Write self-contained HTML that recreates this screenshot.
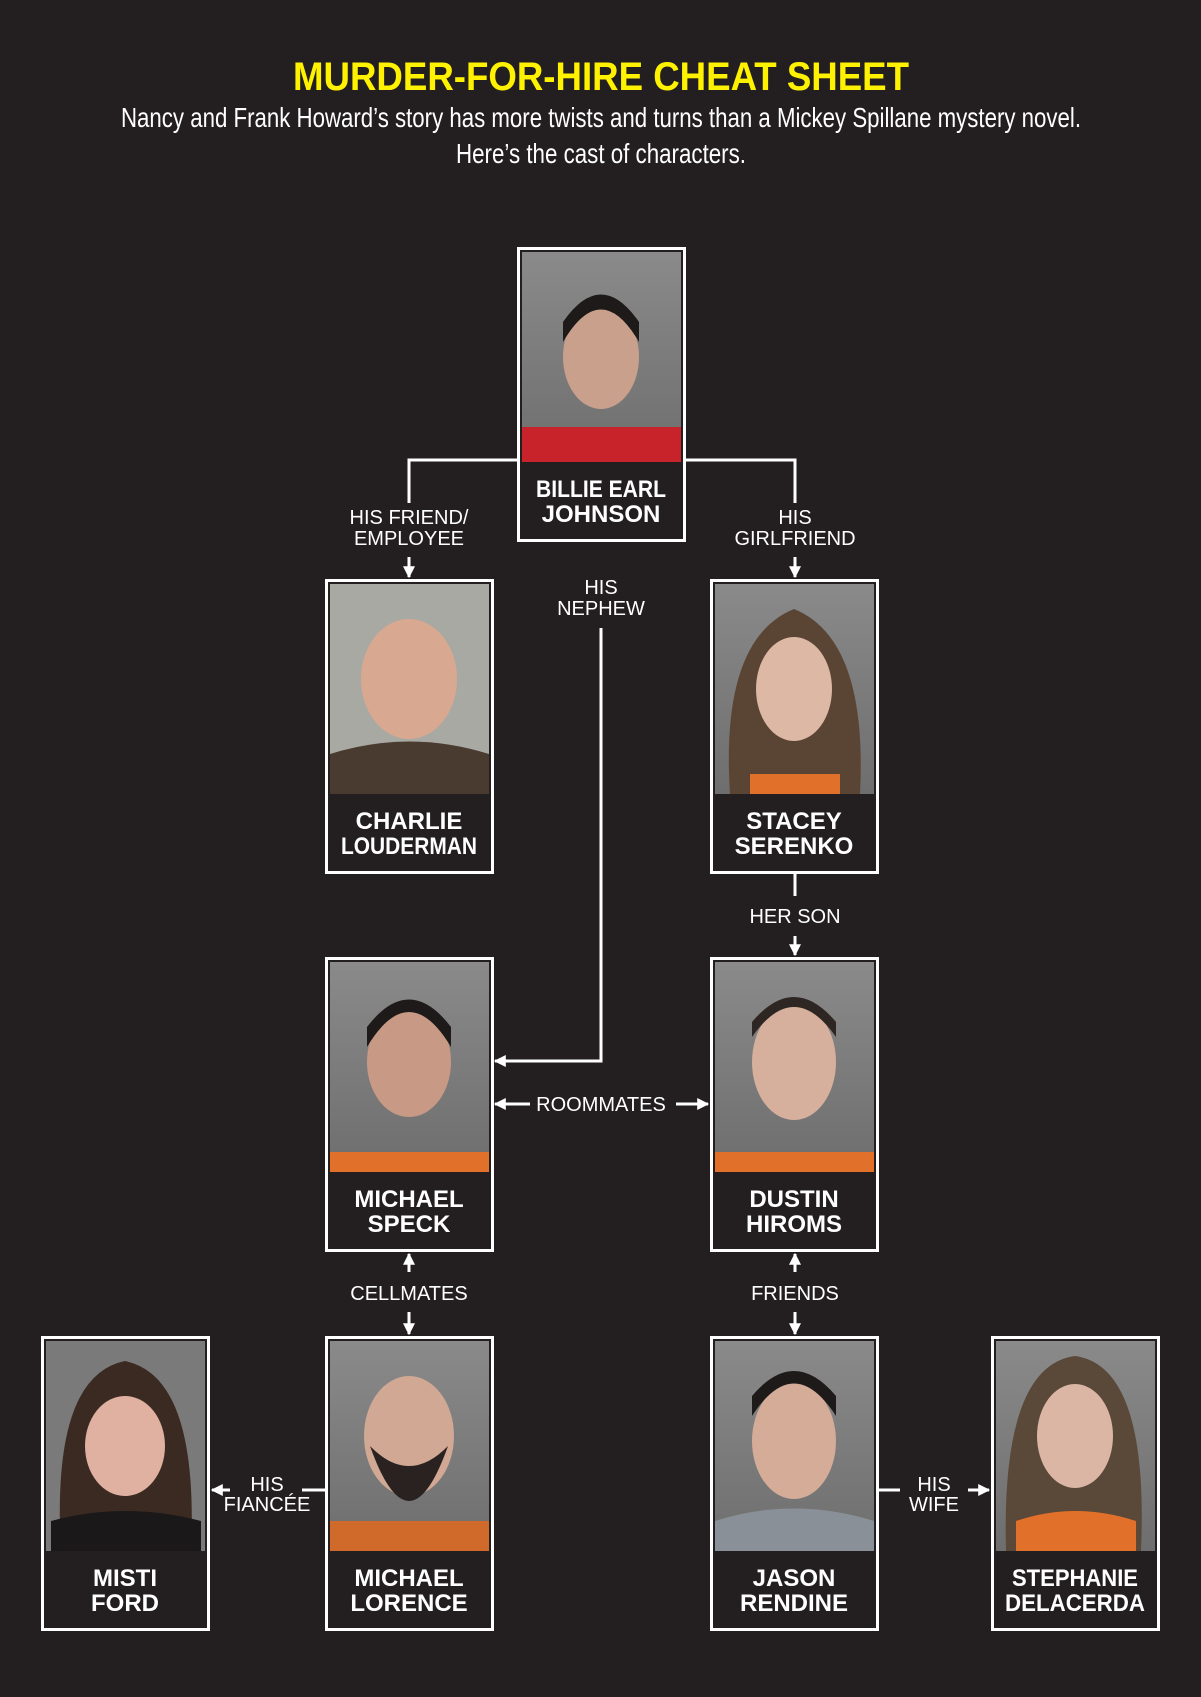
<!DOCTYPE html>
<html><head><meta charset="utf-8"><style>html,body{margin:0;padding:0;background:#231f20}svg{display:block}</style></head>
<body>
<svg width="1201" height="1697" viewBox="0 0 1201 1697" xmlns="http://www.w3.org/2000/svg" font-family="Liberation Sans, sans-serif">
<defs>
<linearGradient id="g" x1="0" y1="0" x2="0" y2="1"><stop offset="0" stop-color="#8a8a8a"/><stop offset="1" stop-color="#6e6e6e"/></linearGradient>
<marker id="a" viewBox="0 0 10 10" refX="9" refY="5" markerWidth="4" markerHeight="4" orient="auto"><path d="M0,0 L10,5 L0,10 z" fill="#fff"/></marker>
</defs>
<rect width="1201" height="1697" fill="#231f20"/>
<text x="601" y="90" text-anchor="middle" fill="#fff200" font-size="40" font-weight="bold" textLength="616" lengthAdjust="spacingAndGlyphs">MURDER-FOR-HIRE CHEAT SHEET</text>
<text x="601" y="127" text-anchor="middle" fill="#fff" font-size="28" textLength="960" lengthAdjust="spacingAndGlyphs">Nancy and Frank Howard’s story has more twists and turns than a Mickey Spillane mystery novel.</text>
<text x="601" y="163" text-anchor="middle" fill="#fff" font-size="28" textLength="290" lengthAdjust="spacingAndGlyphs">Here’s the cast of characters.</text>

<g stroke="#fff" stroke-width="3" fill="none">
<polyline points="517,460 409,460 409,503"/>
<polyline points="686,460 795,460 795,503"/>
<line x1="409" y1="557" x2="409" y2="577" marker-end="url(#a)"/>
<line x1="795" y1="557" x2="795" y2="577" marker-end="url(#a)"/>
<polyline points="601,628 601,1061 495,1061" marker-end="url(#a)"/>
<line x1="530" y1="1104" x2="495" y2="1104" marker-end="url(#a)"/>
<line x1="676" y1="1104" x2="708" y2="1104" marker-end="url(#a)"/>
<line x1="795" y1="874" x2="795" y2="896"/>
<line x1="795" y1="936" x2="795" y2="955" marker-end="url(#a)"/>
<line x1="409" y1="1272" x2="409" y2="1254" marker-end="url(#a)"/>
<line x1="409" y1="1312" x2="409" y2="1334" marker-end="url(#a)"/>
<line x1="795" y1="1272" x2="795" y2="1254" marker-end="url(#a)"/>
<line x1="795" y1="1312" x2="795" y2="1334" marker-end="url(#a)"/>
<line x1="325" y1="1490" x2="302" y2="1490"/>
<line x1="230" y1="1490" x2="212" y2="1490" marker-end="url(#a)"/>
<line x1="879" y1="1490" x2="900" y2="1490"/>
<line x1="968" y1="1490" x2="989" y2="1490" marker-end="url(#a)"/>
</g>

<g fill="#fff" font-size="20" text-anchor="middle">
<text x="409" y="524">HIS FRIEND/</text><text x="409" y="545">EMPLOYEE</text>
<text x="795" y="524">HIS</text><text x="795" y="545">GIRLFRIEND</text>
<text x="601" y="594">HIS</text><text x="601" y="615">NEPHEW</text>
<text x="601" y="1111">ROOMMATES</text>
<text x="795" y="923">HER SON</text>
<text x="409" y="1300">CELLMATES</text>
<text x="795" y="1300">FRIENDS</text>
<text x="267" y="1491">HIS</text><text x="267" y="1511">FIANCÉE</text>
<text x="934" y="1491">HIS</text><text x="934" y="1511">WIFE</text>
</g>

<g id="boxes" font-size="24" font-weight="bold" fill="#fff" text-anchor="middle">
<!-- each: frame -->
<g transform="translate(517,247)"><rect x="1.5" y="1.5" width="166" height="292" fill="#231f20" stroke="#fff" stroke-width="3"/><rect x="5" y="5" width="159" height="210" fill="url(#g)"/><path d="M5,180 L164,180 L164,215 L5,215z" fill="#c8232a"/><ellipse cx="84" cy="110" rx="38" ry="52" fill="#c9a08c"/><path d="M46,95 Q84,30 122,95 L122,75 Q84,20 46,75z" fill="#1e1a1a"/><text x="84" y="250" textLength="130" lengthAdjust="spacingAndGlyphs">BILLIE EARL</text><text x="84" y="275">JOHNSON</text></g>

<g transform="translate(325,579)"><rect x="1.5" y="1.5" width="166" height="292" fill="#231f20" stroke="#fff" stroke-width="3"/><rect x="5" y="5" width="159" height="210" fill="#a9a9a4"/><path d="M5,215 L5,175 Q84,150 164,175 L164,215z" fill="#4a3b30"/><ellipse cx="84" cy="100" rx="48" ry="60" fill="#d9a890"/><text x="84" y="250">CHARLIE</text><text x="84" y="275" textLength="136" lengthAdjust="spacingAndGlyphs">LOUDERMAN</text></g>

<g transform="translate(710,579)"><rect x="1.5" y="1.5" width="166" height="292" fill="#231f20" stroke="#fff" stroke-width="3"/><rect x="5" y="5" width="159" height="210" fill="url(#g)"/><path d="M20,215 Q10,60 84,30 Q158,60 150,215z" fill="#5a4535"/><ellipse cx="84" cy="110" rx="38" ry="52" fill="#ddb8a5"/><path d="M40,215 L40,195 L130,195 L130,215z" fill="#e0702a"/><text x="84" y="250">STACEY</text><text x="84" y="275">SERENKO</text></g>

<g transform="translate(325,957)"><rect x="1.5" y="1.5" width="166" height="292" fill="#231f20" stroke="#fff" stroke-width="3"/><rect x="5" y="5" width="159" height="210" fill="url(#g)"/><path d="M5,215 L5,195 L164,195 L164,215z" fill="#e0702a"/><ellipse cx="84" cy="105" rx="42" ry="55" fill="#c89a85"/><path d="M42,90 Q84,20 126,90 L126,70 Q84,15 42,70z" fill="#1e1a1a"/><text x="84" y="250">MICHAEL</text><text x="84" y="275">SPECK</text></g>

<g transform="translate(710,957)"><rect x="1.5" y="1.5" width="166" height="292" fill="#231f20" stroke="#fff" stroke-width="3"/><rect x="5" y="5" width="159" height="210" fill="url(#g)"/><path d="M5,215 L5,195 L164,195 L164,215z" fill="#e0702a"/><ellipse cx="84" cy="105" rx="42" ry="58" fill="#d6b09c"/><path d="M42,80 Q84,20 126,80 L126,65 Q84,15 42,65z" fill="#2e2622"/><text x="84" y="250">DUSTIN</text><text x="84" y="275">HIROMS</text></g>

<g transform="translate(41,1336)"><rect x="1.5" y="1.5" width="166" height="292" fill="#231f20" stroke="#fff" stroke-width="3"/><rect x="5" y="5" width="159" height="210" fill="#7a7a7a"/><path d="M20,215 Q10,40 84,25 Q158,40 150,215z" fill="#3a2a22"/><ellipse cx="84" cy="110" rx="40" ry="50" fill="#e0b0a0"/><path d="M10,215 L10,185 Q84,165 160,185 L160,215z" fill="#1a1818"/><text x="84" y="250">MISTI</text><text x="84" y="275">FORD</text></g>

<g transform="translate(325,1336)"><rect x="1.5" y="1.5" width="166" height="292" fill="#231f20" stroke="#fff" stroke-width="3"/><rect x="5" y="5" width="159" height="210" fill="url(#g)"/><path d="M5,215 L5,185 L164,185 L164,215z" fill="#d06a2a"/><ellipse cx="84" cy="100" rx="45" ry="60" fill="#d0a894"/><path d="M45,110 Q84,220 123,110 Q84,150 45,110z" fill="#2a2220"/><text x="84" y="250">MICHAEL</text><text x="84" y="275">LORENCE</text></g>

<g transform="translate(710,1336)"><rect x="1.5" y="1.5" width="166" height="292" fill="#231f20" stroke="#fff" stroke-width="3"/><rect x="5" y="5" width="159" height="210" fill="url(#g)"/><path d="M5,215 L5,185 Q84,160 164,185 L164,215z" fill="#8a9098"/><ellipse cx="84" cy="105" rx="42" ry="58" fill="#d4ac98"/><path d="M42,80 Q84,15 126,80 L126,60 Q84,10 42,60z" fill="#1e1a1a"/><text x="84" y="250">JASON</text><text x="84" y="275">RENDINE</text></g>

<g transform="translate(991,1336)"><rect x="1.5" y="1.5" width="166" height="292" fill="#231f20" stroke="#fff" stroke-width="3"/><rect x="5" y="5" width="159" height="210" fill="url(#g)"/><path d="M15,215 Q10,30 84,20 Q158,30 150,215z" fill="#5a4838"/><ellipse cx="84" cy="100" rx="38" ry="52" fill="#dcb6a4"/><path d="M25,215 L25,185 Q84,165 145,185 L145,215z" fill="#e0702a"/><text x="84" y="250" textLength="126" lengthAdjust="spacingAndGlyphs">STEPHANIE</text><text x="84" y="275" textLength="140" lengthAdjust="spacingAndGlyphs">DELACERDA</text></g>
</g>
</svg>
</body></html>
